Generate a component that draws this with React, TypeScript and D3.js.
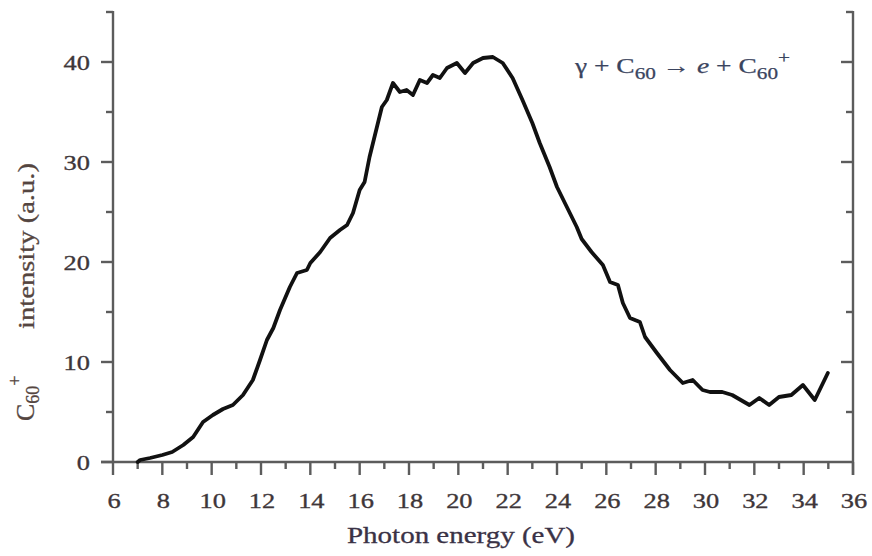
import React from "react";
import * as d3 from "d3";

const energy = [7.0, 7.1, 7.5, 8.0, 8.4, 8.85, 9.25, 9.65, 10.05, 10.46, 10.86, 11.27, 11.67, 11.96, 12.24, 12.5, 12.77, 13.17, 13.46, 13.86, 14.0, 14.4, 14.8, 15.2, 15.49, 15.73, 16.0, 16.2, 16.4, 16.7, 16.9, 17.1, 17.35, 17.63, 17.9, 18.16, 18.44, 18.73, 18.97, 19.25, 19.54, 19.94, 20.27, 20.6, 21.0, 21.4, 21.8, 22.2, 22.6, 23.0, 23.3, 23.7, 24.0, 24.4, 24.8, 25.0, 25.4, 25.86, 26.15, 26.47, 26.67, 26.96, 27.36, 27.57, 28.05, 28.58, 29.1, 29.5, 29.9, 30.2, 30.7, 31.1, 31.8, 32.2, 32.6, 33.0, 33.5, 33.97, 34.45, 34.98];
const intensity = [0, 0.2, 0.4, 0.7, 1.0, 1.7, 2.5, 4.0, 4.7, 5.3, 5.7, 6.7, 8.2, 10.2, 12.2, 13.4, 15.2, 17.5, 18.9, 19.2, 19.9, 21.0, 22.4, 23.2, 23.7, 24.9, 27.2, 28.0, 30.5, 33.5, 35.5, 36.2, 37.9, 37.0, 37.2, 36.7, 38.2, 37.9, 38.7, 38.4, 39.4, 39.9, 38.9, 39.9, 40.4, 40.5, 39.9, 38.4, 36.2, 33.9, 31.9, 29.5, 27.5, 25.5, 23.5, 22.3, 21.0, 19.7, 18.0, 17.7, 15.9, 14.4, 14.0, 12.5, 10.9, 9.2, 7.9, 8.2, 7.2, 7.0, 7.0, 6.7, 5.7, 6.4, 5.7, 6.5, 6.7, 7.7, 6.2, 8.9];

const xMajorTicks = [6, 8, 10, 12, 14, 16, 18, 20, 22, 24, 26, 28, 30, 32, 34, 36];
const xMinorTicks = [7, 9, 11, 13, 15, 17, 19, 21, 23, 25, 27, 29, 31, 33, 35];
const yMajorTicks = [0, 10, 20, 30, 40];
const yMinorTicks = [5, 15, 25, 35, 45];

const xTitle = "Photon energy (eV)";
const yTitleMain = "intensity (a.u.)";

const W = 872;
const H = 556;
const axisColor = "#5c5c5c";
const labelColor = "#3e3639";
const serif = "'Liberation Serif', 'Times New Roman', serif";

export default function App() {
  const x = d3.scaleLinear().domain([6, 36]).range([113, 853]);
  const y = d3.scaleLinear().domain([0, 45]).range([462, 12]);
  const pts: [number, number][] = energy.map((e, i) => [e, intensity[i]]);
  const line = d3
    .line<[number, number]>()
    .x((d) => x(d[0]))
    .y((d) => y(d[1]))
    .curve(d3.curveLinear);

  const x0 = x(6);
  const x1 = x(36);
  const y0 = y(0);
  const yTop = y(45);

  return (
    <svg
      width={W}
      height={H}
      style={{ position: "absolute", left: 0, top: 0, background: "#fff" }}
    >
      <rect x={0} y={0} width={W} height={H} fill="#fff" />
      {/* axes lines */}
      <g stroke={axisColor} strokeWidth={2.4} fill="none">
        <line x1={x0} y1={yTop - 1} x2={x0} y2={y0 + 1} />
        <line x1={x1} y1={yTop - 1} x2={x1} y2={y0 + 13} />
        <line x1={x0 - 12} y1={y0} x2={x1} y2={y0} />
        {yMajorTicks.map((t) => (
          <line key={"lm" + t} x1={x0 - 12} y1={y(t)} x2={x0} y2={y(t)} />
        ))}
        {yMinorTicks.map((t) => (
          <line key={"ln" + t} x1={x0 - 7} y1={y(t)} x2={x0} y2={y(t)} />
        ))}
        {yMajorTicks.filter((t) => t > 0).map((t) => (
          <line key={"rm" + t} x1={x1 - 12} y1={y(t)} x2={x1} y2={y(t)} />
        ))}
        {yMinorTicks.map((t) => (
          <line key={"rn" + t} x1={x1 - 7} y1={y(t)} x2={x1} y2={y(t)} />
        ))}
        {xMajorTicks.map((t) => (
          <line key={"bm" + t} x1={x(t)} y1={y0} x2={x(t)} y2={y0 + 13} />
        ))}
        {xMinorTicks.map((t) => (
          <line key={"bn" + t} x1={x(t)} y1={y0} x2={x(t)} y2={y0 + 7} />
        ))}
      </g>

      {/* tick labels */}
      <g fill={labelColor} stroke={labelColor} strokeWidth={0.35} fontFamily={serif} fontSize={22}>
        {yMajorTicks.map((t) => (
          <text
            key={"yl" + t}
            transform={`translate(90, ${y(t)}) scale(1.2, 1)`}
            textAnchor="end"
            dy="0.35em"
          >
            {t}
          </text>
        ))}
        {xMajorTicks.map((t) => (
          <text
            key={"xl" + t}
            transform={`translate(${x(t) + 1}, 508) scale(1.2, 1)`}
            textAnchor="middle"
          >
            {t}
          </text>
        ))}
      </g>

      {/* x title */}
      <text
        x={461}
        y={543}
        textAnchor="middle"
        fontFamily={serif}
        fontSize={23}
        fill="#3a3246"
        stroke="#3a3246"
        strokeWidth={0.3}
        textLength={228}
        lengthAdjust="spacingAndGlyphs"
      >
        {xTitle}
      </text>

      {/* y title */}
      <g
        transform="translate(34, 0) rotate(-90)"
        fontFamily={serif}
        fill="#544540"
        stroke="#544540"
        strokeWidth={0.3}
      >
        <text x={-421} y={0} fontSize={26}>
          <tspan>C</tspan>
          <tspan fontSize={18} dy={5}>60</tspan>
          <tspan fontSize={18} dy={-18}>+</tspan>
        </text>
        <text
          x={-329}
          y={0}
          fontSize={23}
          textLength={166}
          lengthAdjust="spacingAndGlyphs"
        >
          {yTitleMain}
        </text>
      </g>

      {/* annotation */}
      <text
        x={575}
        y={73}
        fontFamily={serif}
        fontSize={22}
        fill="#3a445e"
        stroke="#3a445e"
        strokeWidth={0.25}
        textLength={215}
        lengthAdjust="spacingAndGlyphs"
      >
        <tspan>γ + C</tspan>
        <tspan fontSize={17} dy={6}>60</tspan>
        <tspan dy={-6}> → </tspan>
        <tspan fontStyle="italic">e</tspan>
        <tspan> + C</tspan>
        <tspan fontSize={17} dy={6}>60</tspan>
        <tspan fontSize={17} dy={-16}>+</tspan>
      </text>

      {/* data trace */}
      <path
        d={line(pts) || ""}
        fill="none"
        stroke="#111"
        strokeWidth={3.8}
        strokeLinejoin="round"
        strokeLinecap="round"
      />
    </svg>
  );
}
